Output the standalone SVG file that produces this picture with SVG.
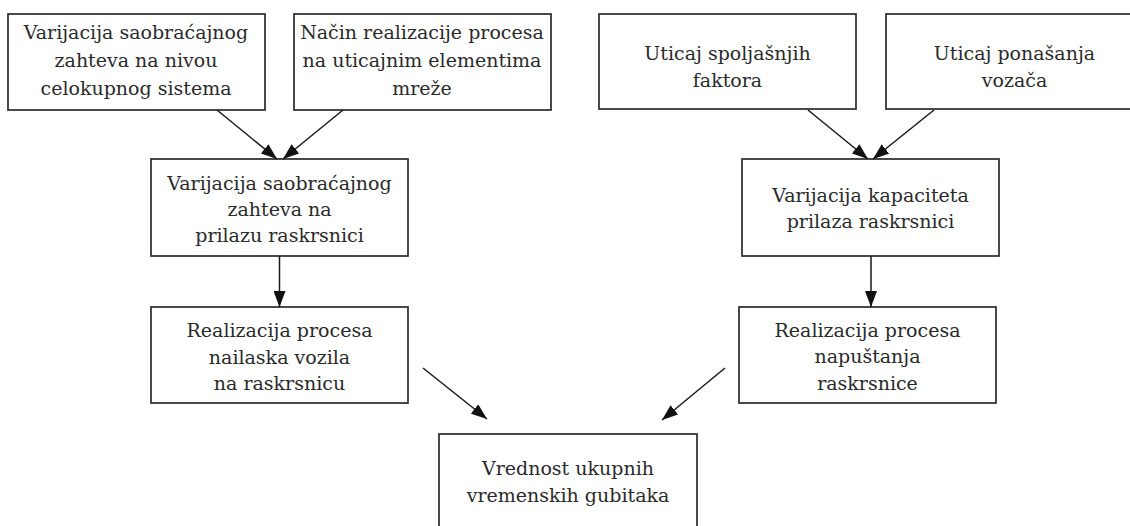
<svg xmlns="http://www.w3.org/2000/svg" width="1130" height="526" viewBox="0 0 1130 526">
<style>
  .box { fill: #ffffff; stroke: #2a2a2a; stroke-width: 1.7; }
  .lbl { font-family: "DejaVu Serif", "Liberation Serif", serif; font-size: 19px; fill: #2a2a2a; text-anchor: middle; }
  .edge { stroke: #1a1a1a; stroke-width: 1.5; fill: none; marker-end: url(#arr); }
</style>
<defs>
  <marker id="arr" markerUnits="userSpaceOnUse" markerWidth="16" markerHeight="12" refX="16" refY="6" orient="auto">
    <path d="M0,0 L16,6 L0,12 z" fill="#111111"/>
  </marker>
</defs>
<rect width="1130" height="526" fill="#ffffff"/>

<g id="n1">
  <rect class="box" x="8" y="14" width="257" height="96"/>
  <text class="lbl" x="136" y="39">Varijacija saobraćajnog</text>
  <text class="lbl" x="136" y="67">zahteva na nivou</text>
  <text class="lbl" x="136" y="95">celokupnog sistema</text>
</g>
<g id="n2">
  <rect class="box" x="294" y="14" width="257" height="96"/>
  <text class="lbl" x="422" y="39">Način realizacije procesa</text>
  <text class="lbl" x="422" y="67">na uticajnim elementima</text>
  <text class="lbl" x="422" y="95">mreže</text>
</g>
<g id="n3">
  <rect class="box" x="599" y="14" width="257" height="95"/>
  <text class="lbl" x="727.5" y="60">Uticaj spoljašnjih</text>
  <text class="lbl" x="727.5" y="87">faktora</text>
</g>
<g id="n4">
  <rect class="box" x="886" y="14" width="257" height="95"/>
  <text class="lbl" x="1014.5" y="60">Uticaj ponašanja</text>
  <text class="lbl" x="1014.5" y="87">vozača</text>
</g>
<g id="n5">
  <rect class="box" x="151" y="159" width="257" height="97"/>
  <text class="lbl" x="279.5" y="190">Varijacija saobraćajnog</text>
  <text class="lbl" x="279.5" y="216">zahteva na</text>
  <text class="lbl" x="279.5" y="242">prilazu raskrsnici</text>
</g>
<g id="n6">
  <rect class="box" x="742" y="159" width="257" height="97"/>
  <text class="lbl" x="870.5" y="202">Varijacija kapaciteta</text>
  <text class="lbl" x="870.5" y="228">prilaza raskrsnici</text>
</g>
<g id="n7">
  <rect class="box" x="151" y="307" width="257" height="96"/>
  <text class="lbl" x="279.5" y="337">Realizacija procesa</text>
  <text class="lbl" x="279.5" y="364">nailaska vozila</text>
  <text class="lbl" x="279.5" y="390">na raskrsnicu</text>
</g>
<g id="n8">
  <rect class="box" x="739" y="307" width="257" height="96"/>
  <text class="lbl" x="867.5" y="337">Realizacija procesa</text>
  <text class="lbl" x="867.5" y="363">napuštanja</text>
  <text class="lbl" x="867.5" y="390">raskrsnice</text>
</g>
<g id="n9">
  <rect class="box" x="439" y="434" width="258" height="110"/>
  <text class="lbl" x="568" y="475">Vrednost ukupnih</text>
  <text class="lbl" x="568" y="502">vremenskih gubitaka</text>
</g>

<g id="connectors">
  <line class="edge" x1="217" y1="110" x2="277" y2="159"/>
  <line class="edge" x1="343" y1="110" x2="283" y2="159"/>
  <line class="edge" x1="808" y1="110" x2="868" y2="159"/>
  <line class="edge" x1="934" y1="110" x2="873" y2="159"/>
  <line class="edge" x1="279.5" y1="256" x2="279.5" y2="307"/>
  <line class="edge" x1="871" y1="256" x2="871" y2="307"/>
  <line class="edge" x1="423" y1="368" x2="487" y2="419"/>
  <line class="edge" x1="725" y1="368" x2="662" y2="420"/>
</g>
</svg>
